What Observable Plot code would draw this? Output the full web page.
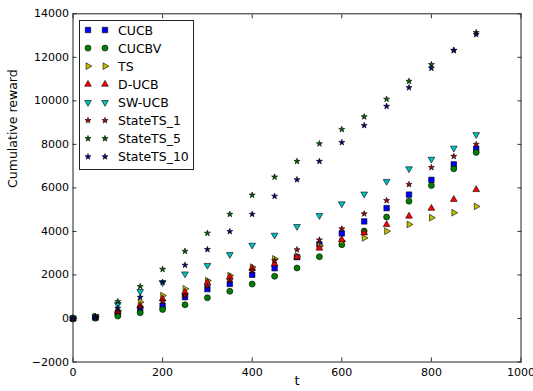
<!DOCTYPE html>
<html>
<head>
<meta charset="utf-8">
<script src="https://cdn.jsdelivr.net/npm/d3@7"></script>
<script src="https://cdn.jsdelivr.net/npm/@observablehq/plot@0.6"></script>
<style>
  html, body { margin: 0; padding: 0; background: white; }
  svg { font-family: "DejaVu Sans", sans-serif; }
</style>
</head>
<body>
<div id="chart"></div>
<script>
const t = [0, 50, 100, 150, 200, 250, 300, 350, 400, 450, 500, 550, 600, 650, 700, 750, 800, 850, 900];

const cucb      = [0, 40, 230, 410, 590, 980, 1350, 1590, 2010, 2310, 2820, 3400, 3910, 4460, 5070, 5690, 6370, 7080, 7800];
const cucbv     = [0, 10, 110, 260, 410, 630, 950, 1250, 1580, 1940, 2320, 2840, 3390, 4020, 4660, 5390, 6110, 6880, 7630];
const ts        = [0, 90, 360, 750, 1050, 1360, 1740, 1970, 2360, 2740, 2850, 3350, 3550, 3700, 4010, 4320, 4630, 4860, 5150];
const ducb      = [0, 60, 320, 590, 900, 1210, 1650, 1900, 2300, 2510, 2820, 3230, 3620, 3930, 4310, 4700, 5060, 5470, 5920];
const swucb     = [0, 100, 640, 1240, 1650, 2050, 2440, 2940, 3370, 3830, 4230, 4730, 5270, 5720, 6300, 6880, 7320, 7830, 8450];
const stateTS1  = [0, 60, 290, 520, 780, 1050, 1470, 1740, 2200, 2660, 3160, 3610, 4120, 4810, 5420, 6160, 6940, 7450, 8000];
const stateTS5  = [0, 90, 780, 1470, 2260, 3090, 3920, 4790, 5670, 6500, 7220, 8030, 8690, 9270, 10080, 10900, 11670, 12320, 13140];
const stateTS10 = [0, 40, 470, 975, 1665, 2450, 3170, 4000, 4790, 5620, 6380, 7220, 8090, 8870, 9750, 10610, 11500, 12320, 13050];

const xTicks = [0, 200, 400, 600, 800, 1000];
const yTicks = [-2000, 0, 2000, 4000, 6000, 8000, 10000, 12000, 14000];

const series = [
  {name: "CUCB",       values: cucb,      color: "#0000ff", symbol: "square",   r: 3.1, rotate: 0},
  {name: "CUCBV",      values: cucbv,     color: "#008000", symbol: "circle",   r: 3.0, rotate: 0},
  {name: "TS",         values: ts,        color: "#bfbf00", symbol: "triangle", r: 2.5, rotate: 90},
  {name: "D-UCB",      values: ducb,      color: "#ff0000", symbol: "triangle", r: 2.5, rotate: 0},
  {name: "SW-UCB",     values: swucb,     color: "#00bfbf", symbol: "triangle", r: 2.5, rotate: 180},
  {name: "StateTS_1",  values: stateTS1,  color: "#b00000", symbol: "star",     r: 1.9, rotate: 0},
  {name: "StateTS_5",  values: stateTS5,  color: "#006400", symbol: "star",     r: 1.9, rotate: 0},
  {name: "StateTS_10", values: stateTS10, color: "#00008b", symbol: "star",     r: 1.9, rotate: 0}
];

const fmt = d3.format("d");

const dotMarks = series.map(s =>
  Plot.dot(t.map((x, i) => ({x, y: s.values[i]})), {
    x: "x", y: "y", symbol: s.symbol, r: s.r, rotate: s.rotate,
    fill: s.color, stroke: "black", strokeWidth: 0.6
  })
);

const chart = Plot.plot({
  width: 533,
  height: 391,
  marginLeft: 72.5,
  marginRight: 12.5,
  marginTop: 13.3,
  marginBottom: 29.5,
  x: {domain: [0, 1000]},
  y: {domain: [-2000, 14000]},
  style: {fontFamily: "DejaVu Sans", fontSize: "11px", background: "white", overflow: "visible", color: "black"},
  marks: [
    Plot.axisX({ticks: xTicks, tickSize: 0, tickPadding: 6, tickFormat: fmt, label: null, fontSize: 11}),
    Plot.axisX({ticks: xTicks, anchor: "bottom", tickSize: -4, fill: "none", label: null, stroke: "#333"}),
    Plot.axisX({ticks: xTicks, anchor: "top", tickSize: -4, fill: "none", label: null, stroke: "#333"}),
    Plot.axisY({ticks: yTicks, tickSize: 0, tickPadding: 4, tickFormat: fmt, label: null, fontSize: 11}),
    Plot.axisY({ticks: yTicks, anchor: "left", tickSize: -4, fill: "none", label: null, stroke: "#333"}),
    Plot.axisY({ticks: yTicks, anchor: "right", tickSize: -4, fill: "none", label: null, stroke: "#333"}),
    Plot.text(["Cumulative reward"], {frameAnchor: "left", rotate: -90, dx: -60, fontSize: 12.5}),
    Plot.text(["t"], {frameAnchor: "bottom", dy: 23, fontSize: 13}),
    ...dotMarks,
    Plot.frame({stroke: "#222"})
  ]
});

document.getElementById("chart").appendChild(chart);

// Legend
const svg = d3.select(chart);
const lg = svg.append("g").attr("text-anchor", "start");
lg.append("rect")
  .attr("x", 79.5).attr("y", 20.5).attr("width", 114).attr("height", 149)
  .attr("fill", "white").attr("stroke", "#222").attr("stroke-width", 1);
const symMap = {square: d3.symbolSquare, circle: d3.symbolCircle, triangle: d3.symbolTriangle, star: d3.symbolStar};
series.forEach((s, i) => {
  const y = 30 + i * 18.1;
  for (const x of [88, 105]) {
    lg.append("path")
      .attr("d", d3.symbol(symMap[s.symbol], Math.PI * s.r * s.r)())
      .attr("transform", `translate(${x},${y}) rotate(${s.rotate})`)
      .attr("fill", s.color).attr("stroke", "black").attr("stroke-width", 0.6);
  }
  lg.append("text")
    .attr("x", 118).attr("y", y).attr("dy", "0.36em")
    .attr("text-anchor", "start")
    .attr("font-size", 12.5).attr("fill", "black")
    .text(s.name);
});
</script>
</body>
</html>
